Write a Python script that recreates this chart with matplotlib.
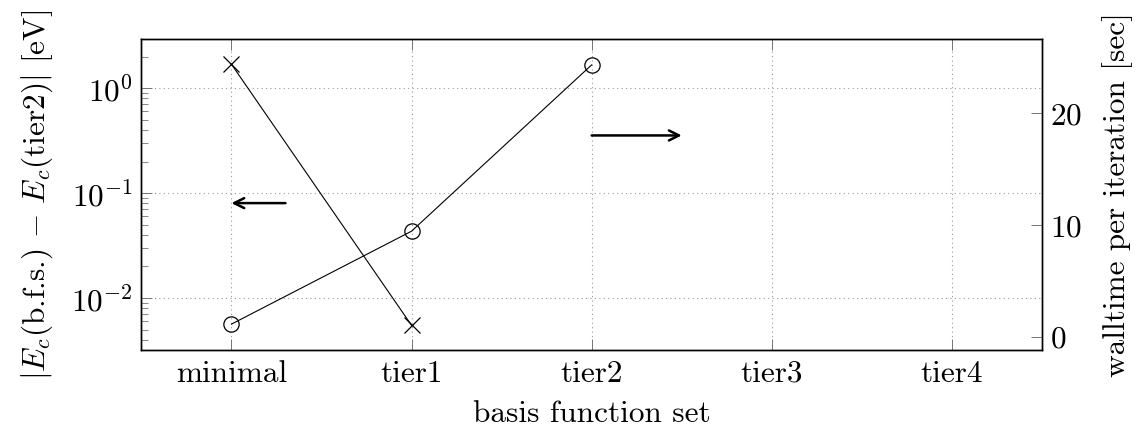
import numpy as np
import matplotlib
matplotlib.use('Agg')
import matplotlib.pyplot as plt
from matplotlib.ticker import LogLocator, NullFormatter

plt.rcParams['font.family'] = 'serif'
plt.rcParams['font.serif'] = ['cmr10']
plt.rcParams['mathtext.fontset'] = 'cm'
plt.rcParams['axes.formatter.use_mathtext'] = True
plt.rcParams['axes.unicode_minus'] = False

# basis sets and results
basis_sets = ['minimal', 'tier1', 'tier2', 'tier3', 'tier4']
err_idx = [0, 1]
err_vals = [1.69, 0.0055]          # |Ec(bfs) - Ec(tier2)| in eV
time_idx = [0, 1, 2]
time_vals = [1.15, 9.45, 24.3]     # walltime per iteration in sec
right_ticks = [0, 10, 20]

FS = 22.5

fig, ax = plt.subplots(figsize=(11.4, 4.3), dpi=100)
fig.subplots_adjust(left=0.124, right=0.914, top=0.909, bottom=0.186)
ax2 = ax.twinx()

ax.plot(err_idx, err_vals, color='black', lw=0.8, marker='x', ms=11,
        mew=0.9, zorder=3)
ax2.plot(time_idx, time_vals, color='black', lw=0.8, marker='o', ms=11,
         mfc='none', mew=0.9, zorder=3)

ax.set_yscale('log')
ax.set_ylim(0.0032, 2.93)
ax.set_xlim(-0.5, 4.5)
ax2.set_ylim(-1.16, 26.6)
ax2.set_yticks(right_ticks)

ax.set_xticks(range(len(basis_sets)))
ax.set_xticklabels(basis_sets)
ax.yaxis.set_major_locator(LogLocator(base=10, numticks=10))
ax.yaxis.set_minor_locator(LogLocator(base=10, subs=np.arange(2, 10), numticks=10))
ax.yaxis.set_minor_formatter(NullFormatter())

ax.grid(True, which='major', linestyle=(0, (1, 3)), color='0.6', lw=0.8)

ax.tick_params(which='both', direction='in', top=True, right=False,
               labelsize=FS, color='0.45', pad=6)
ax.tick_params(axis='x', pad=7)
ax.tick_params(which='major', length=8, width=0.7)
ax.tick_params(which='minor', length=5, width=0.6)
ax2.tick_params(direction='in', labelsize=FS, color='0.45', length=8,
                width=0.7, pad=6)

for a in (ax, ax2):
    for s in a.spines.values():
        s.set_linewidth(1.0)

ax.set_xlabel('basis function set', fontsize=FS, labelpad=9)
ax.set_ylabel(r'$|E_c($b.f.s.$)\,-\,E_c($tier2$)|$ [eV]',
              fontsize=FS, labelpad=12)
ax2.set_ylabel('walltime per iteration [sec]', fontsize=FS, labelpad=14)

# arrows pointing at the matching axis
ax.annotate('', xy=(0, 0.0803), xytext=(0.3, 0.0803),
            arrowprops=dict(arrowstyle='->', lw=1.8, color='black',
                            shrinkA=0, shrinkB=0, mutation_scale=18))
ax2.annotate('', xy=(2.5, 18), xytext=(2, 18),
             arrowprops=dict(arrowstyle='->', lw=1.8, color='black',
                             shrinkA=0, shrinkB=0, mutation_scale=18))

fig.savefig('out.png', dpi=100)
